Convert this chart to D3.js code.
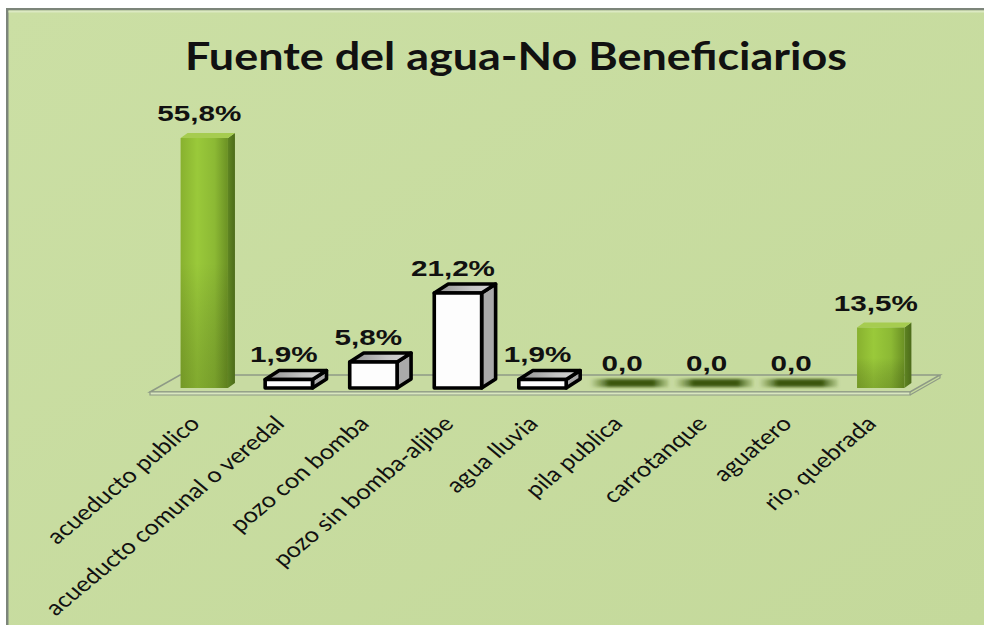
<!DOCTYPE html>
<html>
<head>
<meta charset="utf-8">
<script src="https://cdn.jsdelivr.net/npm/d3@7"></script>
<style>
  body { margin: 0; background: #fff; }
  svg { display: block; }
</style>
</head>
<body>
<svg id="chart" width="984" height="625"></svg>
<script>
// Water source among non-beneficiaries (percent of households)
const title = "Fuente del agua-No Beneficiarios";
const categories = [
  "acueducto publico",
  "acueducto comunal o veredal",
  "pozo con bomba",
  "pozo sin bomba-aljibe",
  "agua lluvia",
  "pila publica",
  "carrotanque",
  "aguatero",
  "rio, quebrada"
];
const values = [55.8, 1.9, 5.8, 21.2, 1.9, 0, 0, 0, 13.5];
const yDomain = [0, 60];

// Formatting of the value labels: comma decimal, "%" only on non-zero values
const fmt = v => v === 0 ? "0,0" : v.toFixed(1).replace(".", ",") + "%";

const W = 984, H = 625;
const STRETCH = 1.2;   // the whole panel is drawn slightly widened
const svg = d3.select("#chart");
const defs = svg.append("defs");

// Outlined white boxes for the well / rain categories, green for the rest
const outlined = new Set(["acueducto comunal o veredal", "pozo con bomba", "pozo sin bomba-aljibe", "agua lluvia"]);

// Gradients
const gFront = defs.append("linearGradient").attr("id", "greenFront").attr("x1", 0).attr("x2", 1).attr("y1", 0).attr("y2", 0);
[[0, "#88b12f"], [0.35, "#9ac93a"], [0.72, "#8cb934"], [1, "#6b9124"]].forEach(([o, c]) =>
  gFront.append("stop").attr("offset", o).attr("stop-color", c));
const gShade = defs.append("linearGradient").attr("id", "greenShade").attr("x1", 0).attr("x2", 0).attr("y1", 0).attr("y2", 1);
[[0, "#000", 0], [0.5, "#000", 0], [1, "#2c3f08", 0.22]].forEach(([o, c, a]) =>
  gShade.append("stop").attr("offset", o).attr("stop-color", c).attr("stop-opacity", a));
const gSide = defs.append("linearGradient").attr("id", "greenSide").attr("x1", 0).attr("x2", 1).attr("y1", 0).attr("y2", 0);
[[0, "#5f8522"], [1, "#4d6c1a"]].forEach(([o, c]) =>
  gSide.append("stop").attr("offset", o).attr("stop-color", c));
const gTop = defs.append("linearGradient").attr("id", "greyTop").attr("x1", 0).attr("x2", 1).attr("y1", 0).attr("y2", 0);
[[0, "#8e8e8e"], [0.6, "#c4c4c4"], [1, "#d6d6d6"]].forEach(([o, c]) =>
  gTop.append("stop").attr("offset", o).attr("stop-color", c));
const gBg = defs.append("linearGradient").attr("id", "bg").attr("x1", 0).attr("x2", 1).attr("y1", 0).attr("y2", 1);
[[0, "#cbdfa4"], [1, "#c4d99b"]].forEach(([o, c]) =>
  gBg.append("stop").attr("offset", o).attr("stop-color", c));
const gZero = defs.append("linearGradient").attr("id", "zeroShade").attr("x1", 0).attr("x2", 1).attr("y1", 0).attr("y2", 0);
[[0, "#5f7f28", 0], [0.25, "#3a5610", 1], [0.8, "#3a5610", 1], [1, "#5f7f28", 0.2]].forEach(([o, c, a]) =>
  gZero.append("stop").attr("offset", o).attr("stop-color", c).attr("stop-opacity", a));
defs.append("filter").attr("id", "soft").attr("x", "-30%").attr("y", "-100%").attr("width", "160%").attr("height", "300%")
  .append("feGaussianBlur").attr("stdDeviation", 1.8);

// Chart panel
svg.append("rect").attr("width", W).attr("height", H).attr("fill", "#ffffff");
svg.append("rect").attr("x", 6).attr("y", 8).attr("width", W - 6).attr("height", H - 8).attr("fill", "url(#bg)");
svg.append("rect").attr("x", 6).attr("y", 8).attr("width", W - 6).attr("height", 2.5).attr("fill", "#7c857a");
svg.append("rect").attr("x", 6).attr("y", 8).attr("width", 2.5).attr("height", H - 8).attr("fill", "#7c857a");
svg.append("rect").attr("x", 8.5).attr("y", 10.5).attr("width", W - 8).attr("height", 2).attr("fill", "#dce9c2");

// Title
svg.append("text")
  .attr("x", 516).attr("y", 70)
  .attr("text-anchor", "middle")
  .attr("font-family", "Lato, 'Open Sans', sans-serif")
  .attr("font-weight", 700)
  .attr("font-size", 39)
  .attr("fill", "#111")
  .attr("textLength", 662)
  .attr("lengthAdjust", "spacingAndGlyphs")
  .text(title);

// Scales
const x = d3.scaleBand().domain(categories).range([162, 923]).paddingInner(0.44).paddingOuter(0.22);
const y = d3.scaleLinear().domain(yDomain).range([388, 119.2]);
const bw = x.bandwidth();
const DX = 14, DY = -9;          // bar depth offset
const FX = 30, FY = -17;         // floor depth offset

// Floor
const [r0, r1] = x.range();
const fy = y(0) + 4;
const fl = r0 - 12, fr = r1 - 13;
const floor = svg.append("g");
floor.append("path")
  .attr("d", `M${fl},${fy}L${fl + FX},${fy + FY}L${fr + FX},${fy + FY}L${fr},${fy}Z`)
  .attr("fill", "#c8dba2").attr("stroke", "#8e9a86").attr("stroke-width", 1.5);
floor.append("path")
  .attr("d", `M${fl},${fy}L${fr},${fy}L${fr},${fy + 3}L${fl},${fy + 3}Z`)
  .attr("fill", "#d9e7bf").attr("stroke", "#8e9a86").attr("stroke-width", 1.2);
floor.append("path")
  .attr("d", `M${fr},${fy + 3}L${fr + FX},${fy + FY + 3}L${fr + FX},${fy + FY}`)
  .attr("fill", "none").attr("stroke", "#8e9a86").attr("stroke-width", 1.2);

// Soft dark patches for empty categories
svg.append("g").selectAll("rect")
  .data(categories.filter((c, i) => values[i] === 0))
  .join("rect")
  .attr("x", c => x(c) - 14)
  .attr("y", y(0) - 9)
  .attr("width", bw + 32)
  .attr("height", 8)
  .attr("fill", "url(#zeroShade)")
  .attr("filter", "url(#soft)");

// 3D bars
const bars = svg.append("g").selectAll("g")
  .data(categories.map((c, i) => ({ c, v: values[i] })).filter(d => d.v > 0))
  .join("g");

bars.each(function (d) {
  const g = d3.select(this);
  const x0 = x(d.c), x1 = x0 + bw, yt = y(d.v), yb = y(0);
  if (outlined.has(d.c)) {
    const side = `M${x1},${yb}L${x1 + DX},${yb + DY}L${x1 + DX},${yt + DY}L${x1},${yt}Z`;
    const top = `M${x0},${yt}L${x0 + DX},${yt + DY}L${x1 + DX},${yt + DY}L${x1},${yt}Z`;
    const outline = sel => sel.attr("stroke", "#000").attr("stroke-width", 3.6).attr("stroke-linejoin", "round");
    g.append("path").attr("d", side).attr("fill", "#a9a9a9").call(outline);
    g.append("path").attr("d", top).attr("fill", "url(#greyTop)").call(outline);
    g.append("rect").attr("x", x0).attr("y", yt).attr("width", bw).attr("height", yb - yt)
      .attr("fill", "#fdfdfd").call(outline);
  } else {
    const gdx = 7, gdy = -5;
    g.append("path").attr("d", `M${x1},${yb}L${x1 + gdx},${yb + gdy}L${x1 + gdx},${yt + gdy}L${x1},${yt}Z`).attr("fill", "url(#greenSide)");
    g.append("path").attr("d", `M${x0},${yt}L${x0 + gdx},${yt + gdy}L${x1 + gdx},${yt + gdy}L${x1},${yt}Z`).attr("fill", "#a6cc50");
    g.append("rect").attr("x", x0).attr("y", yt).attr("width", bw).attr("height", yb - yt).attr("fill", "url(#greenFront)");
    g.append("rect").attr("x", x0).attr("y", yt).attr("width", bw).attr("height", yb - yt).attr("fill", "url(#greenShade)");
  }
});

// Value labels (widened like the rest of the panel)
svg.append("g").selectAll("text")
  .data(categories.map((c, i) => ({ c, v: values[i] })))
  .join("text")
  .attr("transform", d => `translate(${x(d.c) + bw / 2 - 5},${(d.v > 0 ? y(d.v) : y(0)) + DY - 8}) scale(1.38,1)`)
  .attr("text-anchor", "middle")
  .attr("font-family", "'Liberation Sans', Arial, sans-serif")
  .attr("font-weight", 700)
  .attr("font-size", 21.5)
  .attr("fill", "#111")
  .text(d => fmt(d.v));

// Category axis with slanted labels
const axis = svg.append("g")
  .attr("transform", `translate(-3, 425)`)
  .call(d3.axisBottom(x).tickSize(0).tickPadding(0));
axis.select(".domain").remove();
const tickText = axis.selectAll("text")
  .attr("x", 0).attr("y", 0).attr("dy", 0)
  .attr("transform", `scale(${STRETCH},1) rotate(-45)`)
  .attr("text-anchor", "end")
  .attr("font-family", "Lato, 'Open Sans', sans-serif")
  .attr("font-size", 20)
  .attr("fill", "#111");
// size the labels so the first one spans its measured length
const probe = tickText.filter((d, i) => i === 0).node();
const fs = 20 * 170 / probe.getComputedTextLength();
tickText.attr("font-size", fs);
</script>
</body>
</html>
